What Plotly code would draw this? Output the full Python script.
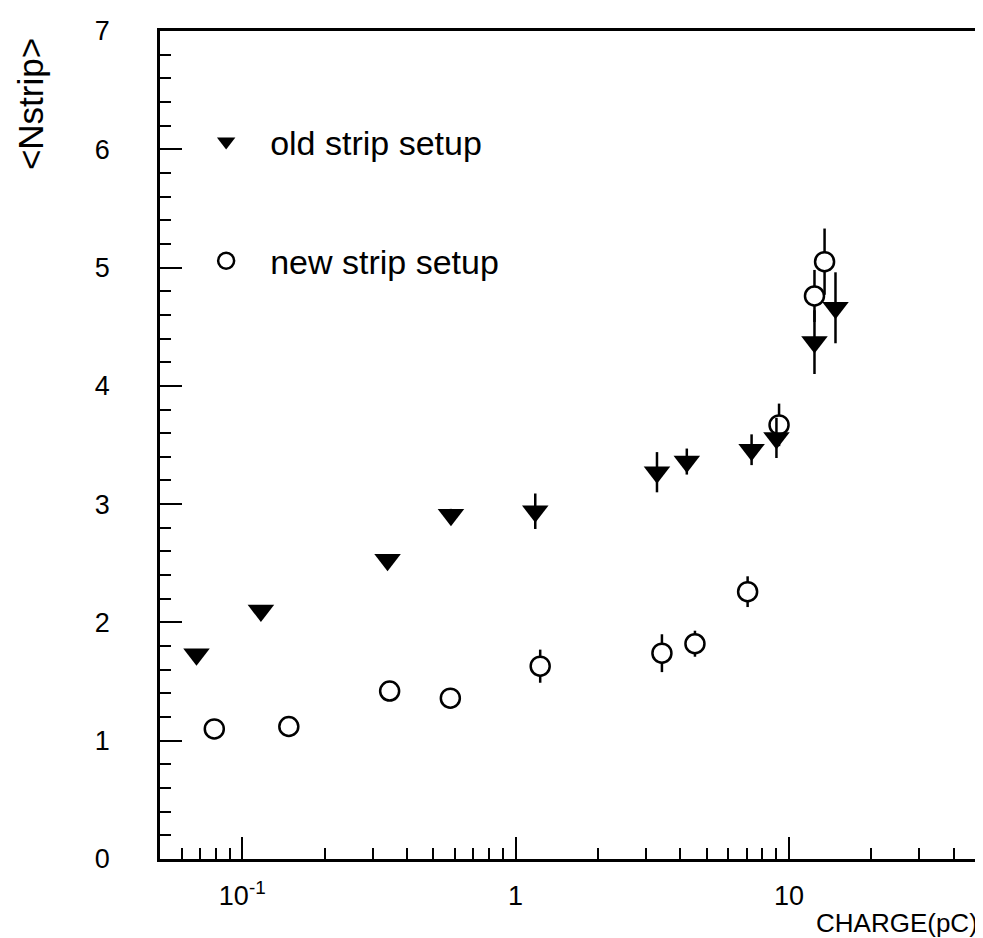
import numpy as np
import plotly.graph_objects as go

# ---- data ----
old_x = [0.068, 0.117, 0.34, 0.58, 1.18, 3.29, 4.23, 7.3, 9.0, 12.4, 14.8]
old_y = [1.73, 2.10, 2.53, 2.91, 2.94, 3.27, 3.36, 3.46, 3.56, 4.37, 4.66]
old_err = [0.04, 0.04, 0.04, 0.05, 0.15, 0.17, 0.11, 0.13, 0.17, 0.27, 0.30]

new_x = [0.079, 0.148, 0.346, 0.577, 1.23, 3.43, 4.53, 7.06, 9.2, 12.4, 13.5]
new_y = [1.10, 1.12, 1.42, 1.36, 1.63, 1.74, 1.82, 2.26, 3.67, 4.76, 5.05]
new_err = [0.03, 0.03, 0.04, 0.04, 0.14, 0.16, 0.11, 0.13, 0.18, 0.22, 0.28]

x_major = [0.1, 1, 10]
x_major_labels = ["10<sup>-1</sup>", "1", "10"]
x_minor = [0.06, 0.07, 0.08, 0.09, 0.2, 0.3, 0.4, 0.5, 0.6, 0.7, 0.8, 0.9,
           2, 3, 4, 5, 6, 7, 8, 9, 20, 30, 40]
y_major = [0, 1, 2, 3, 4, 5, 6, 7]

FONT = "Liberation Sans"

fig = go.Figure()
# circles first (drawn below), triangles on top
fig.add_trace(go.Scatter(
    x=new_x, y=new_y, mode="markers", name="new strip setup",
    legendgroup="b", legendrank=2,
    marker=dict(symbol="circle", size=19, color="white",
                line=dict(width=2.5, color="black")),
    error_y=dict(type="data", array=new_err, width=0, thickness=2.5,
                 color="black"),
))
fig.add_trace(go.Scatter(
    x=old_x, y=old_y, mode="markers", name="old strip setup",
    legendgroup="a", legendrank=1,
    marker=dict(symbol="triangle-down", size=23, color="black",
                line=dict(width=0)),
    error_y=dict(type="data", array=old_err, width=0, thickness=2.5,
                 color="black"),
))

fig.update_layout(
    width=983, height=938,
    margin=dict(l=152, r=8, t=22, b=87),
    paper_bgcolor="white", plot_bgcolor="white",
    font=dict(family=FONT, color="black"),
    showlegend=True,
    legend=dict(x=0.027, y=0.901, xanchor="left", yanchor="top",
                bgcolor="rgba(0,0,0,0)", font=dict(size=34, family=FONT),
                traceorder="grouped", tracegroupgap=72,
                itemsizing="trace", itemwidth=78),
)

fig.update_xaxes(
    type="log", range=[np.log10(0.05), np.log10(50)],
    showgrid=False, zeroline=False,
    showline=True, linecolor="black", linewidth=2.5, mirror=True,
    ticks="inside", ticklen=22, tickwidth=2, tickcolor="black",
    tickmode="array", tickvals=x_major, ticktext=x_major_labels,
    tickfont=dict(size=27, family=FONT), ticklabelstandoff=11,
    minor=dict(ticks="inside", ticklen=11, tickwidth=2, tickcolor="black",
               tickmode="array", tickvals=x_minor, showgrid=False),
)
fig.update_yaxes(
    range=[0, 7],
    showgrid=False, zeroline=False,
    showline=True, linecolor="black", linewidth=2.5, mirror=True,
    ticks="inside", ticklen=22, tickwidth=2, tickcolor="black",
    tickmode="array", tickvals=y_major,
    tickfont=dict(size=27, family=FONT), ticklabelstandoff=42,
    minor=dict(ticks="inside", ticklen=11, tickwidth=2, tickcolor="black",
               dtick=0.2, showgrid=False),
)

fig.add_annotation(text="&lt;Nstrip&gt;", xref="paper", yref="paper",
                   x=-0.157, y=0.912, xanchor="center", yanchor="middle",
                   textangle=-90, showarrow=False,
                   font=dict(size=35, family=FONT))
fig.add_annotation(text="CHARGE(pC)", xref="paper", yref="paper",
                   x=1.0, y=-0.077, xanchor="right", yanchor="middle",
                   showarrow=False, font=dict(size=26, family=FONT))
fig.add_annotation(text="FIG.2", xref="paper", yref="paper",
                   x=0.5, y=-0.089, xanchor="center", yanchor="top",
                   showarrow=False, font=dict(size=30, family=FONT))

fig.write_html("out.html")
